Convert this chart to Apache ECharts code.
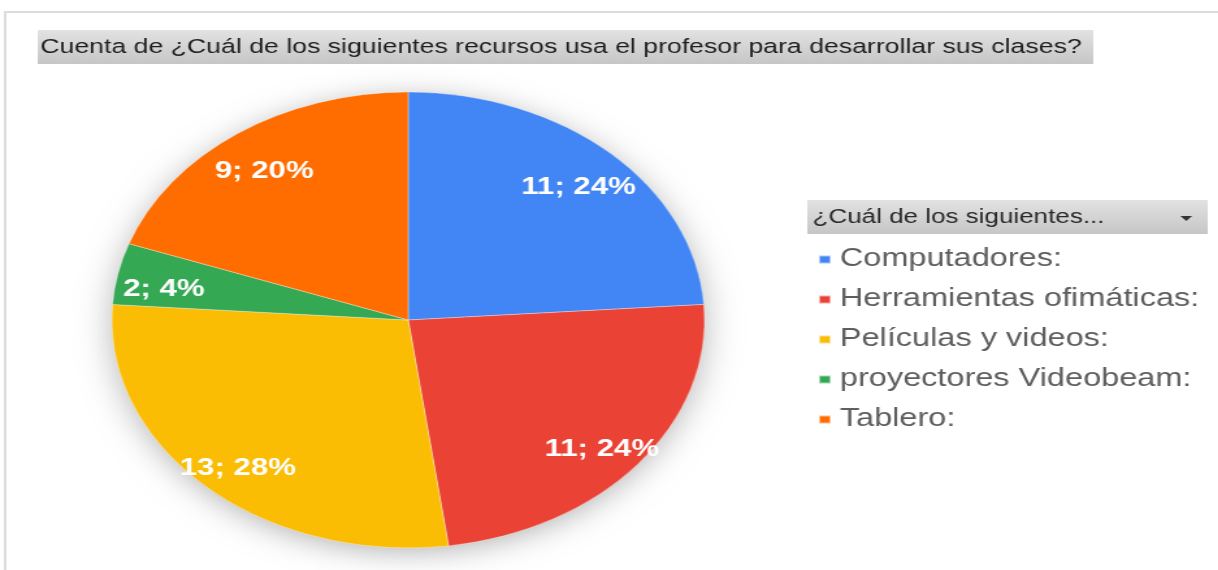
<!DOCTYPE html>
<html>
<head>
<meta charset="utf-8">
<script src="https://cdn.jsdelivr.net/npm/echarts@6/dist/echarts.min.js"></script>
<style>
html, body { margin: 0; padding: 0; background: #fff; overflow: hidden; }
/* the source screenshot is stretched sideways, so draw narrow and stretch */
#chart { width: 937px; height: 570px; transform: scaleX(1.3); transform-origin: 0 0; }
</style>
</head>
<body>
<div id="chart"></div>
<script>
var titleText = 'Cuenta de ¿Cuál de los siguientes recursos usa el profesor para desarrollar sus clases?'
var legendTitle = '¿Cuál de los siguientes...'
var categories = ['Computadores:', 'Herramientas ofimáticas:', 'Películas y videos:', 'proyectores Videobeam:', 'Tablero:']
var counts = [11, 11, 13, 2, 9]
var colors = ['#4285f4', '#ea4335', '#fbbc04', '#34a853', '#ff6d01']

var chartDom = document.getElementById('chart')
var myChart = echarts.init(chartDom)

var pieData = categories.map(function (name, i) {
    return { name: name, value: counts[i], itemStyle: { color: colors[i] } }
})

var barFill = function () {
    return new echarts.graphic.LinearGradient(0, 0, 0, 1, [
        { offset: 0, color: '#e2e2e2' },
        { offset: 1, color: '#c6c6c6' }
    ])
}

var option = {
    animation: false,
    title: {
        text: titleText,
        left: 31,
        top: 36,
        padding: 0,
        textStyle: {
            fontFamily: 'Liberation Sans',
            fontSize: 20.5,
            fontWeight: 'normal',
            color: '#1e1e1e',
            lineHeight: 22
        }
    },
    legend: {
        orient: 'vertical',
        left: 624,
        top: 242,
        icon: 'rect',
        itemWidth: 9,
        itemHeight: 8,
        itemGap: 15,
        selectedMode: false,
        data: categories,
        textStyle: {
            fontFamily: 'Liberation Sans',
            fontSize: 25,
            lineHeight: 25,
            color: '#5e5e5e',
            padding: [0, 0, 0, 2]
        }
    },
    graphic: [
        {
            type: 'rect', z: -10, silent: true,
            shape: { x: 4, y: 12, width: 1000, height: 640 },
            style: { fill: 'none', stroke: '#dcdcdc', lineWidth: 2 }
        },
        {
            type: 'rect', z: -5, silent: true,
            shape: { x: 29, y: 30, width: 812, height: 34 },
            style: { fill: barFill() }
        },
        {
            type: 'rect', z: -5, silent: true,
            shape: { x: 621, y: 200, width: 308, height: 34 },
            style: { fill: barFill() }
        },
        {
            type: 'text', silent: true,
            x: 625, y: 217,
            style: {
                text: legendTitle,
                fontFamily: 'Liberation Sans',
                fontSize: 20,
                fill: '#2a2a2a',
                verticalAlign: 'middle'
            }
        },
        {
            type: 'polygon', silent: true,
            shape: { points: [[908, 216], [917, 216], [912.5, 221]] },
            style: { fill: '#333' }
        },
        {
            // soft shadow under the pie
            type: 'circle', z: 0, silent: true,
            shape: { cx: 314, cy: 320, r: 227 },
            style: { fill: '#fff', shadowBlur: 28, shadowColor: 'rgba(0,0,0,0.3)', shadowOffsetY: 5 }
        }
    ],
    series: [
        {
            name: 'recursos',
            type: 'pie',
            z: 2,
            center: [314, 320],
            radius: [0, 228],
            startAngle: 90,
            clockwise: true,
            silent: true,
            percentPrecision: 0,
            label: { show: false },
            labelLine: { show: false },
            itemStyle: { borderColor: 'rgba(255,255,255,0.55)', borderWidth: 0.6 },
            emphasis: { disabled: true },
            data: pieData
        },
        {
            // transparent ring that only carries the value labels near the rim
            name: 'etiquetas',
            type: 'pie',
            z: 3,
            center: [314, 320],
            radius: [150, 228],
            startAngle: 90,
            clockwise: true,
            silent: true,
            percentPrecision: 0,
            itemStyle: { color: 'rgba(0,0,0,0)', borderWidth: 0 },
            labelLine: { show: false },
            emphasis: { disabled: true },
            label: {
                show: true,
                position: 'inside',
                offset: [0, 8],
                formatter: '{c}; {d}%',
                fontFamily: 'Liberation Sans',
                fontSize: 24,
                fontWeight: 'bold',
                color: '#fff',
                textBorderWidth: 0
            },
            data: categories.map(function (name, i) {
                return { name: name, value: counts[i] }
            })
        }
    ]
}

option && myChart.setOption(option)
</script>
</body>
</html>
